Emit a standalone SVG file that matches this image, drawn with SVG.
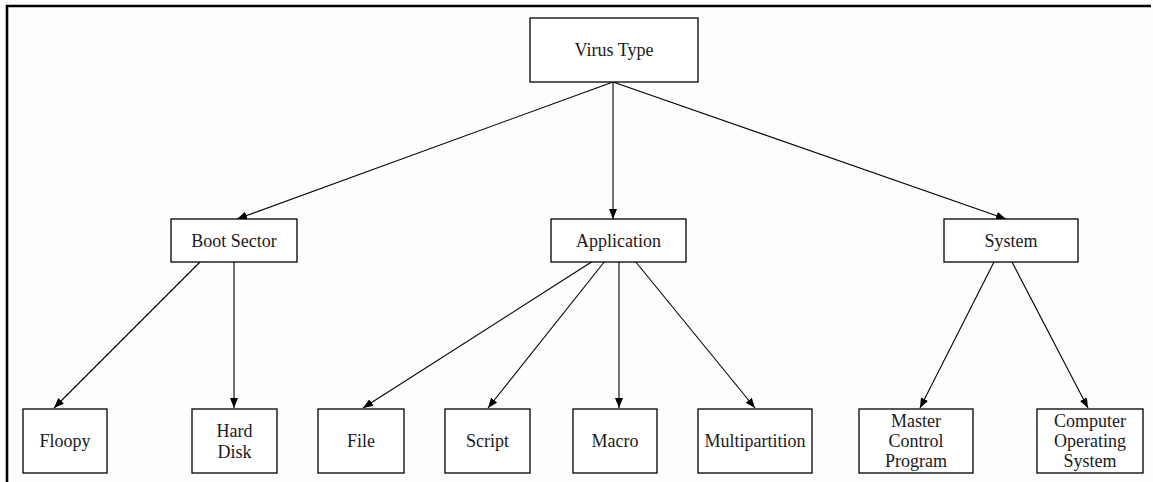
<svg xmlns="http://www.w3.org/2000/svg" width="1153" height="482" viewBox="0 0 1153 482">
<style>
.box{fill:#fff;stroke:#000;stroke-width:1.3}
.lbl{font-family:"Liberation Serif","Times New Roman",serif;font-size:18px;fill:#1a1a1a;text-anchor:middle}
.edge{stroke:#000;stroke-width:1.1;fill:none;marker-end:url(#ah)}
</style>
<defs>
<marker id="ah" viewBox="0 0 10 8" refX="10" refY="4" markerWidth="10" markerHeight="8" markerUnits="userSpaceOnUse" orient="auto">
<path d="M0,0 L10,4 L0,8 Z" fill="#000"/>
</marker>
</defs>
<rect width="1153" height="482" fill="#fdfdfd"/>
<path d="M7,482 V6 H1151" fill="none" stroke="#000" stroke-width="2.6"/>
<g id="connectors">
<line class="edge" x1="613" y1="82" x2="237" y2="219"/>
<line class="edge" x1="613" y1="82" x2="613" y2="219"/>
<line class="edge" x1="613" y1="82" x2="1006" y2="219"/>
<line class="edge" x1="200" y1="262" x2="54" y2="408"/>
<line class="edge" x1="234" y1="262" x2="234" y2="408"/>
<line class="edge" x1="593" y1="261" x2="363" y2="408"/>
<line class="edge" x1="605" y1="261" x2="488" y2="408"/>
<line class="edge" x1="619" y1="261" x2="619" y2="408"/>
<line class="edge" x1="635" y1="261" x2="755" y2="408"/>
<line class="edge" x1="994" y1="262" x2="920" y2="408"/>
<line class="edge" x1="1012" y1="262" x2="1088" y2="408"/>
</g>
<g id="virus-type"><rect class="box" x="530" y="18" width="168" height="64"/><text class="lbl" x="614" y="56">Virus Type</text></g>
<g id="boot-sector"><rect class="box" x="171" y="219" width="126" height="43"/><text class="lbl" x="234" y="247">Boot Sector</text></g>
<g id="application"><rect class="box" x="551" y="219" width="135" height="43"/><text class="lbl" x="618.5" y="247">Application</text></g>
<g id="system"><rect class="box" x="944" y="219" width="134" height="43"/><text class="lbl" x="1011" y="247">System</text></g>
<g id="floopy"><rect class="box" x="23" y="409" width="84" height="64"/><text class="lbl" x="65" y="447">Floopy</text></g>
<g id="hard-disk"><rect class="box" x="192" y="409" width="85" height="64"/><text class="lbl" x="234.5" y="437">Hard</text><text class="lbl" x="234.5" y="458">Disk</text></g>
<g id="file"><rect class="box" x="318" y="409" width="86" height="64"/><text class="lbl" x="361" y="447">File</text></g>
<g id="script"><rect class="box" x="445" y="409" width="85" height="64"/><text class="lbl" x="487.5" y="447">Script</text></g>
<g id="macro"><rect class="box" x="573" y="409" width="84" height="64"/><text class="lbl" x="615" y="447">Macro</text></g>
<g id="multipartition"><rect class="box" x="698" y="409" width="114" height="64"/><text class="lbl" x="755" y="447">Multipartition</text></g>
<g id="master-control-program"><rect class="box" x="859" y="409" width="114" height="64"/><text class="lbl" x="916" y="427">Master</text><text class="lbl" x="916" y="447">Control</text><text class="lbl" x="916" y="467">Program</text></g>
<g id="computer-operating-system"><rect class="box" x="1037" y="409" width="106" height="64"/><text class="lbl" x="1090" y="427">Computer</text><text class="lbl" x="1090" y="447">Operating</text><text class="lbl" x="1090" y="467">System</text></g>
</svg>
